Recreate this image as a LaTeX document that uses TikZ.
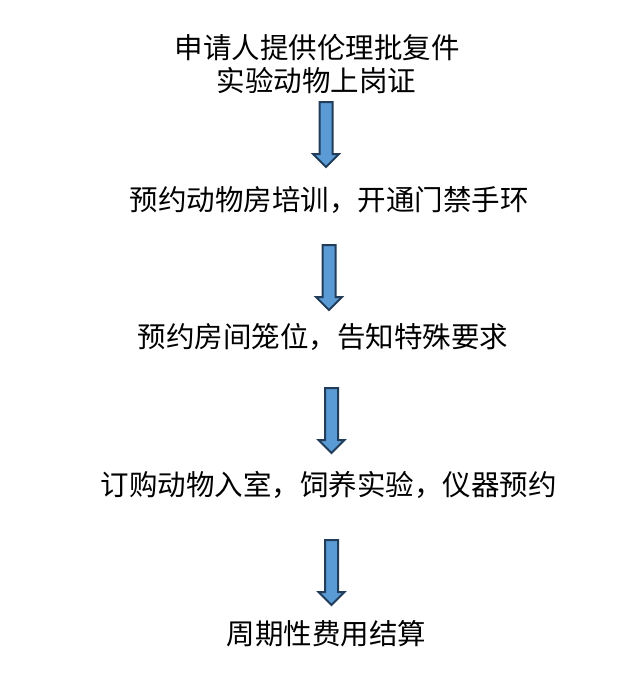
\documentclass[tikz,border=0pt]{standalone}
\usepackage{fontspec}
\setmainfont{Noto Sans CJK SC}
\definecolor{arrowfill}{HTML}{5B9BD5}
\definecolor{arrowline}{HTML}{223D5A}
\tikzset{
  steptext/.style={font=\fontsize{28.5}{34}\selectfont, inner sep=0pt, anchor=center},
  blkarrow/.style={fill=arrowfill, draw=arrowline, line width=2pt, line join=miter}
}

\begin{document}
\begin{tikzpicture}[x=1pt,y=-1pt]
\useasboundingbox (0,0) rectangle (644,680);
\node[steptext] (req1) at (317,48) {申请人提供伦理批复件};
\node[steptext] (req2) at (316.5,81) {实验动物上岗证};
\draw[blkarrow] (319.5,102) -- (332.5,102) -- (332.5,154) -- (339,154) -- (326,167) -- (313,154) -- (319.5,154) -- cycle;
\node[steptext] (train) at (329,200) {预约动物房培训，开通门禁手环};
\draw[blkarrow] (322.5,245) -- (335.5,245) -- (335.5,297) -- (342,297) -- (329,310) -- (316,297) -- (322.5,297) -- cycle;
\node[steptext] (cage) at (323,337) {预约房间笼位，告知特殊要求};
\draw[blkarrow] (325,388) -- (338,388) -- (338,440) -- (344.5,440) -- (331.5,453) -- (318.5,440) -- (325,440) -- cycle;
\node[steptext] (order) at (328.5,485) {订购动物入室，饲养实验，仪器预约};
\draw[blkarrow] (325,540) -- (338,540) -- (338,592) -- (344.5,592) -- (331.5,605) -- (318.5,592) -- (325,592) -- cycle;
\node[steptext] (fee) at (326.5,634) {周期性费用结算};
\end{tikzpicture}
\end{document}
